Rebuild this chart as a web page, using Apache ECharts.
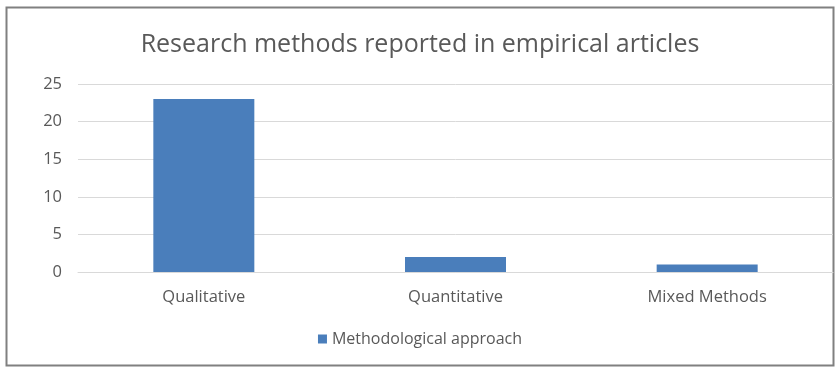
<!DOCTYPE html>
<html>
<head>
<meta charset="utf-8">
<script src="https://cdn.jsdelivr.net/npm/echarts@6/dist/echarts.min.js"></script>
<style>
  html, body { margin: 0; padding: 0; background: #fff; }
  #chart { width: 840px; height: 373px; }
</style>
</head>
<body>
<div id="chart"></div>
<script>
const categories = ['Qualitative', 'Quantitative', 'Mixed Methods'];
const counts = [23, 2, 1];
const seriesName = 'Methodological approach';
const titleText = 'Research methods reported in empirical articles';

const textColor = '#595959';
const fontFamily = '"Open Sans", "Noto Sans", sans-serif';

const chart = echarts.init(document.getElementById('chart'), null, { renderer: 'canvas' });

const option = {
  backgroundColor: '#fff',
  animation: false,
  title: {
    text: titleText,
    left: 'center',
    top: 27,
    textStyle: {
      color: textColor,
      fontFamily: fontFamily,
      fontSize: 25,
      fontWeight: 'normal'
    }
  },
  legend: {
    data: [seriesName],
    left: 'center',
    top: 326,
    itemWidth: 9,
    itemHeight: 9,
    itemGap: 6,
    icon: 'rect',
    textStyle: {
      color: textColor,
      fontFamily: fontFamily,
      fontSize: 16
    }
  },
  grid: {
    left: 78,
    right: 7,
    top: 84,
    bottom: 101,
    containLabel: false
  },
  xAxis: {
    type: 'category',
    data: categories,
    axisLine: { lineStyle: { color: '#d9d9d9', width: 1 } },
    axisTick: { show: false },
    axisLabel: {
      color: textColor,
      fontFamily: fontFamily,
      fontSize: 16.5,
      margin: 17
    }
  },
  yAxis: {
    type: 'value',
    min: 0,
    max: 25,
    interval: 5,
    axisLine: { show: false },
    axisTick: { show: false },
    splitLine: { lineStyle: { color: '#d9d9d9', width: 1 } },
    axisLabel: {
      color: textColor,
      fontFamily: fontFamily,
      fontSize: 16.5,
      margin: 16
    }
  },
  series: [
    {
      name: seriesName,
      type: 'bar',
      data: counts,
      barWidth: 101,
      itemStyle: { color: '#4a7ebb' }
    }
  ],
  graphic: [
    {
      type: 'rect',
      shape: { x: 6.5, y: 7.5, width: 827, height: 358 },
      style: { fill: 'none', stroke: '#808080', lineWidth: 2 },
      silent: true
    }
  ]
};

chart.setOption(option);
</script>
</body>
</html>
